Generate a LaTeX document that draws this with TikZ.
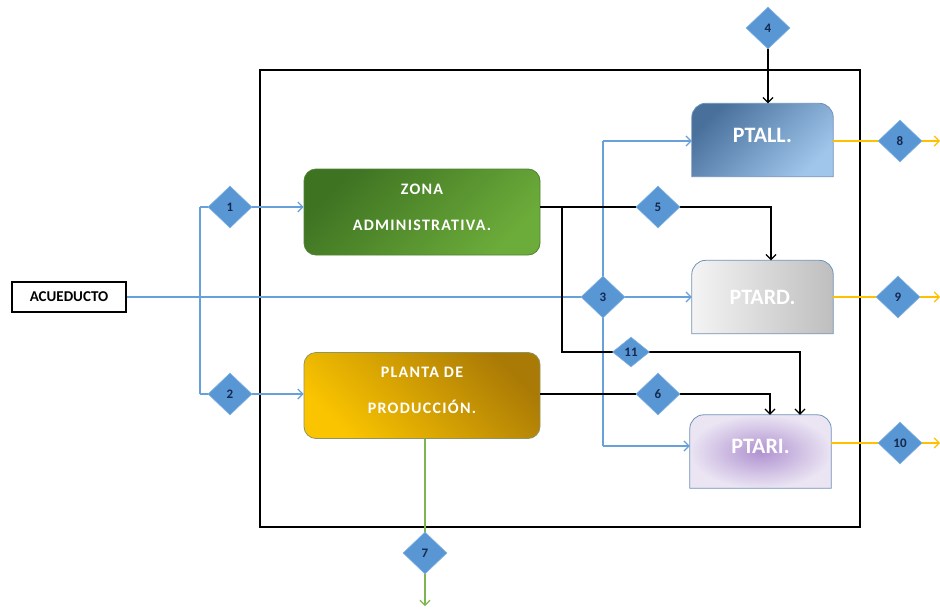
\documentclass[tikz,border=0pt]{standalone}
\usepackage{fontspec}
\setmainfont{Carlito}
\newfontfamily\areafont[LetterSpace=8,BoldFont={Carlito Bold}]{Carlito}
\usetikzlibrary{shapes.geometric,arrows.meta}

\definecolor{lineblue}{RGB}{104,160,218}
\definecolor{valvefill}{RGB}{88,150,212}
\definecolor{valveedge}{RGB}{130,178,225}
\definecolor{valvetext}{RGB}{22,40,78}
\definecolor{lineyellow}{RGB}{255,192,0}
\definecolor{linegreen}{RGB}{125,182,80}
\definecolor{zonadark}{RGB}{62,115,34}
\definecolor{zonalight}{RGB}{108,172,58}
\definecolor{zonaedge}{RGB}{80,130,50}
\definecolor{plantadark}{RGB}{170,122,6}
\definecolor{plantalight}{RGB}{250,196,0}
\definecolor{plantaedge}{RGB}{140,150,95}
\definecolor{ptalldark}{RGB}{72,112,155}
\definecolor{ptalllight}{RGB}{160,198,236}
\definecolor{ptardlight}{RGB}{244,244,244}
\definecolor{ptarddark}{RGB}{190,190,190}
\definecolor{ptariinner}{RGB}{176,146,208}
\definecolor{ptariouter}{RGB}{234,228,243}
\definecolor{tankedge}{RGB}{110,145,185}

\begin{document}
\begin{tikzpicture}[x=1pt,y=-1pt,
  flow/.style={line width=1.2pt},
  tip/.style={-{Straight Barb[length=5pt,width=10pt]}},
  blueflow/.style={flow,draw=lineblue},
  blackflow/.style={flow,draw=black},
  yellowflow/.style={flow,draw=lineyellow,tip},
  greenflow/.style={flow,draw=linegreen,tip},
  valve/.style={diamond,draw=valveedge,fill=valvefill,line width=0.6pt,
    minimum width=44pt,minimum height=42pt,inner sep=0pt,
    font=\fontsize{13}{14}\selectfont\bfseries,text=valvetext},
  smallvalve/.style={valve,minimum width=37pt,minimum height=30pt},
  areatext/.style={text=white,align=center,
    font=\areafont\bfseries\fontsize{16}{17}\selectfont},
  area/.style={rounded corners=12pt,minimum width=236pt,minimum height=86pt,
    line width=0.8pt},
  tank/.style={minimum width=141pt,minimum height=73pt,inner sep=0pt},
  tanklabel/.style={text=white,font=\fontsize{22}{24}\selectfont\bfseries},
  tankedge/.style={draw=tankedge,line width=0.8pt}
]
\useasboundingbox (0,0) rectangle (940,608);

% plant boundary
\node[draw,line width=1.3pt,minimum width=600pt,minimum height=457pt,inner sep=0pt]
  (frame) at (560,298.5) {};

% source
\node[draw,line width=1.4pt,minimum width=114pt,minimum height=30pt,inner sep=0pt,
  font=\fontsize{15}{16}\selectfont\bfseries] (acu) at (69,297) {ACUEDUCTO};

% process areas
\node[area,draw=zonaedge,top color=zonadark,bottom color=zonalight,shading angle=45]
  (zona) at (422,212) {};
\node[areatext] (zonatxt) at (422,207) {ZONA\\[19pt]ADMINISTRATIVA.};
\node[area,draw=plantaedge,top color=plantadark,bottom color=plantalight,shading angle=-45]
  (planta) at (422,395.5) {};
\node[areatext] (plantatxt) at (422,390) {PLANTA DE\\[19pt]PRODUCCIÓN.};

% treatment plants (boxes with rounded top corners)
\node[tank] (ptall) at (762.5,140) {};
\node[tank] (ptard) at (762.5,297) {};
\node[tank] (ptari) at (760.5,451.5) {};

\shade[tankedge,top color=ptalldark,bottom color=ptalllight,shading angle=45]
  (ptall.south west) [rounded corners=14pt] -- (ptall.north west) -- (ptall.north east)
  [sharp corners] -- (ptall.south east) -- cycle;
\shade[tankedge,left color=ptardlight,right color=ptarddark]
  (ptard.south west) [rounded corners=14pt] -- (ptard.north west) -- (ptard.north east)
  [sharp corners] -- (ptard.south east) -- cycle;
\shade[tankedge,inner color=ptariinner,outer color=ptariouter]
  (ptari.south west) [rounded corners=14pt] -- (ptari.north west) -- (ptari.north east)
  [sharp corners] -- (ptari.south east) -- cycle;

\node[tanklabel] (ptalltxt) at (762.5,135) {PTALL.};
\node[tanklabel] (ptardtxt) at (762.5,297) {PTARD.};
\node[tanklabel] (ptaritxt) at (760.5,446) {PTARI.};

% junction points of the pipework
\coordinate (j1) at (200,207);
\coordinate (j2) at (200,394);
\coordinate (k1) at (603,141);
\coordinate (k2) at (603,446);
\coordinate (b1) at (562,207);
\coordinate (b2) at (562,352);
\coordinate (c5) at (771,207);
\coordinate (c11) at (800,352);
\coordinate (c6) at (770,394);
\coordinate (top4) at (768,28);
\coordinate (out8) at (940,141);
\coordinate (out9) at (940,297);
\coordinate (out10) at (940,443);
\coordinate (out7) at (425,606);

% water supply (blue)
\draw[blueflow,tip] (acu.east) -- (ptard.west);
\draw[blueflow] (j1) -- (j2);
\draw[blueflow,tip] (j1) -- (zona.west |- j1);
\draw[blueflow,tip] (j2) -- (planta.west |- j2);
\draw[blueflow] (k1) -- (k2);
\draw[blueflow,tip] (k1) -- (ptall.west |- k1);
\draw[blueflow,tip] (k2) -- (ptari.west |- k2);

% wastewater (black)
\draw[blackflow,tip] (top4) -- (ptall.north -| top4);
\draw[blackflow,tip] (zona.east |- c5) -- (c5) -- (ptard.north -| c5);
\draw[blackflow,tip] (b1) -- (b2) -- (c11) -- (ptari.north -| c11);
\draw[blackflow,tip] (planta.east |- c6) -- (c6) -- (ptari.north -| c6);

% treated effluents (yellow) and production discharge (green)
\draw[yellowflow] (ptall.east |- out8) -- (out8);
\draw[yellowflow] (ptard.east |- out9) -- (out9);
\draw[yellowflow] (ptari.east |- out10) -- (out10);
\draw[greenflow] (planta.south -| out7) -- (out7);

% sampling points
\node[valve] (v1) at (230,207) {1};
\node[valve] (v2) at (230,394) {2};
\node[valve] (v3) at (603,297) {3};
\node[valve] (v4) at (768,28) {4};
\node[valve] (v5) at (658,207) {5};
\node[valve] (v6) at (658,394) {6};
\node[valve] (v7) at (425,553) {7};
\node[valve] (v8) at (900,141) {8};
\node[valve] (v9) at (898,297) {9};
\node[valve] (v10) at (900,443) {10};
\node[smallvalve] (v11) at (631,352) {11};
\end{tikzpicture}
\end{document}
